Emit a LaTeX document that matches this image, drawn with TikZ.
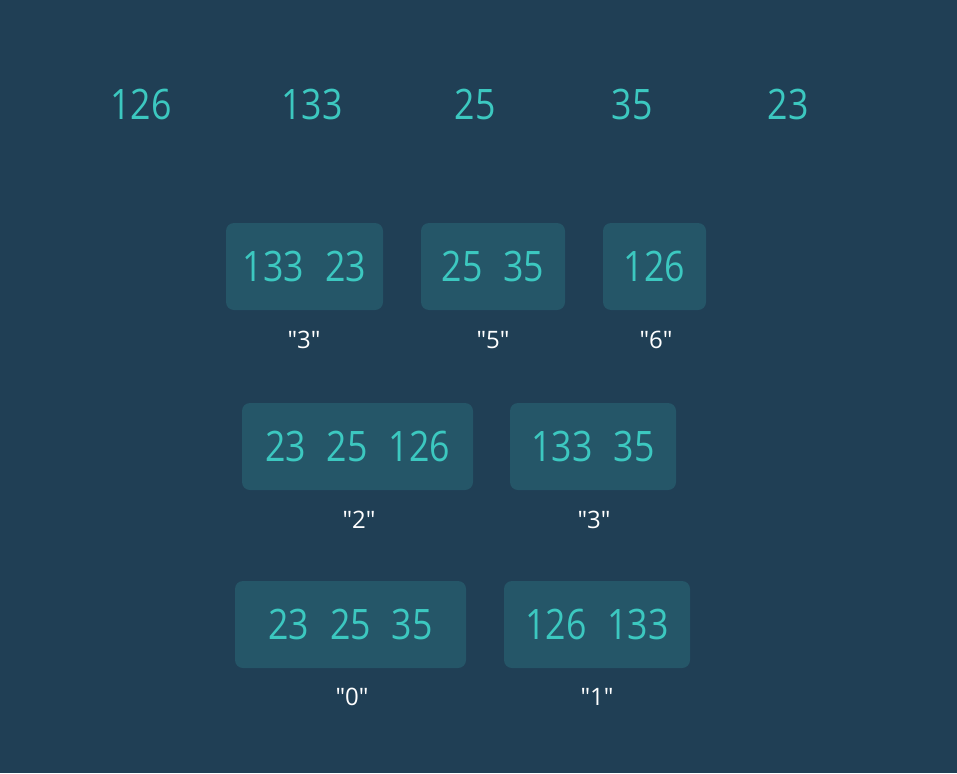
\documentclass[tikz,border=0pt]{standalone}
\usepackage{fontspec}
\setmainfont{Open Sans}[Ligatures=TeXOff]
\newfontfamily\numfont{Open Sans}[FakeStretch=0.85]
\definecolor{bg}{HTML}{203F55}
\definecolor{boxc}{HTML}{255668}
\definecolor{teal}{HTML}{3CC8C0}
\begin{document}
\begin{tikzpicture}[x=1pt,y=-1pt,
  num/.style={text=teal,font=\numfont\fontsize{42}{46}\selectfont,inner sep=0pt},
  bucket/.style={num,fill=boxc,rounded corners=8pt,minimum height=87pt,anchor=center},
  lbl/.style={text=white,font=\fontsize{24}{28}\selectfont,inner sep=0pt}]
\newcommand{\gp}{\hspace{21pt}}
\fill[bg] (0,0) rectangle (957,773);
\useasboundingbox (0,0) rectangle (957,773);
% input numbers
\node[num] (i1) at (141,104) {126};
\node[num] (i2) at (312,104) {133};
\node[num] (i3) at (475,104) {25};
\node[num] (i4) at (632,104) {35};
\node[num] (i5) at (788,104) {23};
% row 1
\node[bucket,minimum width=157pt] (a1) at (304.5,266.5) {133\gp 23};
\node[bucket,minimum width=144pt] (a2) at (493,266.5) {25\gp 35};
\node[bucket,minimum width=103pt] (a3) at (654.5,266.5) {126};
\node[lbl] (la1) at (304,340) {\symbol{34}3\symbol{34}};
\node[lbl] (la2) at (493,340) {\symbol{34}5\symbol{34}};
\node[lbl] (la3) at (656,340) {\symbol{34}6\symbol{34}};
% row 2
\node[bucket,minimum width=231pt] (b1) at (357.5,446.5) {23\gp 25\gp 126};
\node[bucket,minimum width=166pt] (b2) at (593,446.5) {133\gp 35};
\node[lbl] (lb1) at (359,520) {\symbol{34}2\symbol{34}};
\node[lbl] (lb2) at (594,520) {\symbol{34}3\symbol{34}};
% row 3
\node[bucket,minimum width=231pt] (c1) at (350.5,624.5) {23\gp 25\gp 35};
\node[bucket,minimum width=186pt] (c2) at (597,624.5) {126\gp 133};
\node[lbl] (lc1) at (352,697) {\symbol{34}0\symbol{34}};
\node[lbl] (lc2) at (597,697) {\symbol{34}1\symbol{34}};
\end{tikzpicture}
\end{document}
